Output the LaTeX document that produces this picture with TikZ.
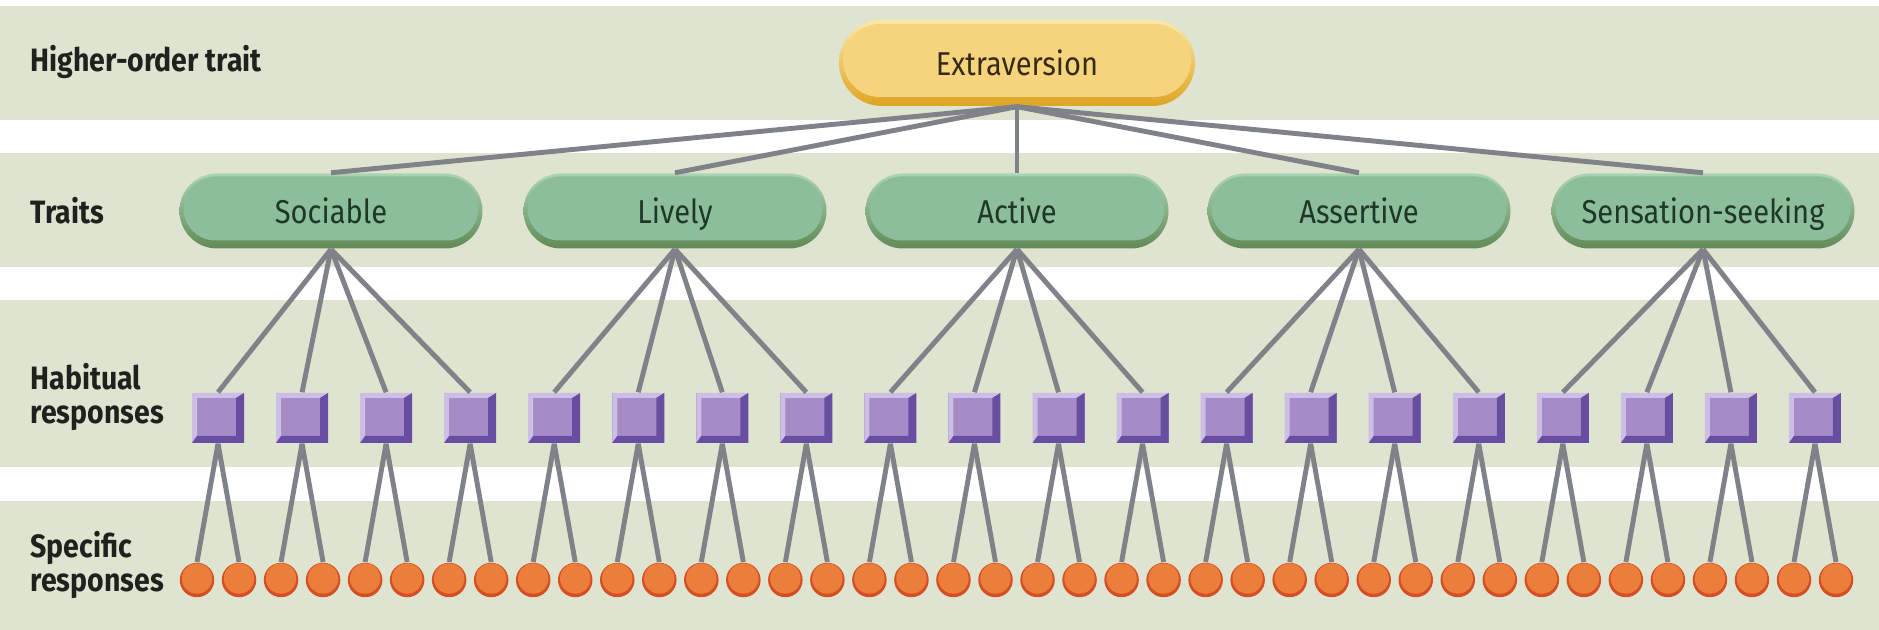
\documentclass[tikz,border=0pt]{standalone}
\usepackage{fontspec}
\setmainfont{Fira Sans}[FakeStretch=0.88]
\usetikzlibrary{calc, positioning}
\definecolor{bandgreen}{RGB}{222,228,207}
\definecolor{linegrey}{RGB}{128,130,137}
\definecolor{labeltext}{RGB}{30,34,30}
\definecolor{extrafill}{RGB}{246,212,125}
\definecolor{extralight}{RGB}{251,232,170}
\definecolor{extradark}{RGB}{222,165,35}
\definecolor{extratext}{RGB}{55,42,20}
\definecolor{traitfill}{RGB}{140,190,155}
\definecolor{traitlight}{RGB}{172,212,180}
\definecolor{traitdark}{RGB}{96,138,86}
\definecolor{traittext}{RGB}{30,55,38}
\definecolor{habitfill}{RGB}{165,140,200}
\definecolor{habitlight}{RGB}{204,190,228}
\definecolor{habitdark}{RGB}{104,78,160}
\definecolor{specfill}{RGB}{236,126,60}
\definecolor{specdark}{RGB}{214,78,36}
\tikzstyle{band} = [fill=bandgreen, draw=none]
\tikzstyle{rowlabel} = [anchor=west, align=left, inner sep=0pt, text=labeltext, font=\bfseries\fontsize{9.2}{9.5}\selectfont]
\tikzstyle{pill} = [rectangle, inner sep=0pt, text height=1.45ex, text depth=0.05ex, font=\fontsize{9.4}{10}\selectfont]
\tikzstyle{higher} = [pill, minimum width=3.56cm, minimum height=0.86cm, rounded corners=0.43cm, top color=extralight, bottom color=extradark, text=extratext, path picture={
	\fill[extrafill, rounded corners=0.37cm] ($(path picture bounding box.south west)+(0.04,0.09)$) rectangle ($(path picture bounding box.north east)-(0.04,0.04)$);
}]
\tikzstyle{trait} = [pill, minimum width=3.03cm, minimum height=0.75cm, rounded corners=0.375cm, top color=traitlight, bottom color=traitdark, text=traittext, path picture={
	\fill[traitfill, rounded corners=0.32cm] ($(path picture bounding box.south west)+(0.04,0.08)$) rectangle ($(path picture bounding box.north east)-(0.04,0.03)$);
}]
\tikzstyle{habit} = [rectangle, inner sep=0pt, minimum width=0.52cm, minimum height=0.5cm, fill=habitfill, path picture={
	\coordinate (hsw) at (path picture bounding box.south west);
	\coordinate (hne) at (path picture bounding box.north east);
	\coordinate (isw) at ($(hsw)+(0.05,0.07)$);
	\coordinate (ine) at ($(hne)-(0.08,0.05)$);
	\fill[habitlight] (hsw) |- (hne) -- (ine) -| (isw) -- cycle;
	\fill[habitdark] (hsw) -| (hne) -- (ine) |- (isw) -- cycle;
}]
\tikzstyle{specific} = [circle, inner sep=0pt, minimum size=0.345cm, fill=specdark, path picture={
	\fill[specfill] ($(path picture bounding box.center)+(0,0.015)$) circle (0.152);
}]
\tikzstyle{link} = [draw=linegrey, line width=1.4pt]

\begin{document}
\begin{tikzpicture}
	\useasboundingbox (0,0) rectangle (18.79,6.30);
	% background bands
	\fill[band] (0,5.10) rectangle (18.79,6.24);
	\fill[band] (0,3.63) rectangle (18.79,4.77);
	\fill[band] (0,1.63) rectangle (18.79,3.30);
	\fill[band] (0,0) rectangle (18.79,1.29);
	% row labels
	\node (LabelHigher) [rowlabel] at (0.30,5.68) {Higher-order trait};
	\node (LabelTraits) [rowlabel] at (0.30,4.19) {Traits};
	\node (LabelHabitual) [rowlabel] at (0.30,2.33) {Habitual\\responses};
	\node (LabelSpecific) [rowlabel] at (0.30,0.65) {Specific\\responses};
	% nodes
	\node (Extraversion) [higher] at (10.17,5.67) {Extraversion};
	\foreach \name/\x/\txt in {t1/3.31/Sociable, t2/6.75/Lively, t3/10.17/Active, t4/13.59/Assertive, t5/17.03/Sensation-seeking}
		\node (\name) [trait] at (\x,4.19) {\txt};
	\foreach \i in {1,...,20}
		\node (h\i) [habit] at ({2.18+0.8405*(\i-1)},2.12) {};
	\foreach \i in {1,...,40}
		\node (s\i) [specific] at ({1.97+0.42025*(\i-1)},0.50) {};
	% connectors
	\foreach \i in {1,...,5}
		\draw [link] (Extraversion.south) -- (t\i.north);
	\foreach \i in {1,...,20} {
		\pgfmathtruncatemacro{\tr}{int((\i-1)/4)+1}
		\pgfmathtruncatemacro{\sa}{2*\i-1}
		\pgfmathtruncatemacro{\sb}{2*\i}
		\draw [link] (t\tr.south) -- (h\i.north);
		\draw [link] (h\i.south) -- (s\sa.north);
		\draw [link] (h\i.south) -- (s\sb.north);
	}
\end{tikzpicture}
\end{document}
